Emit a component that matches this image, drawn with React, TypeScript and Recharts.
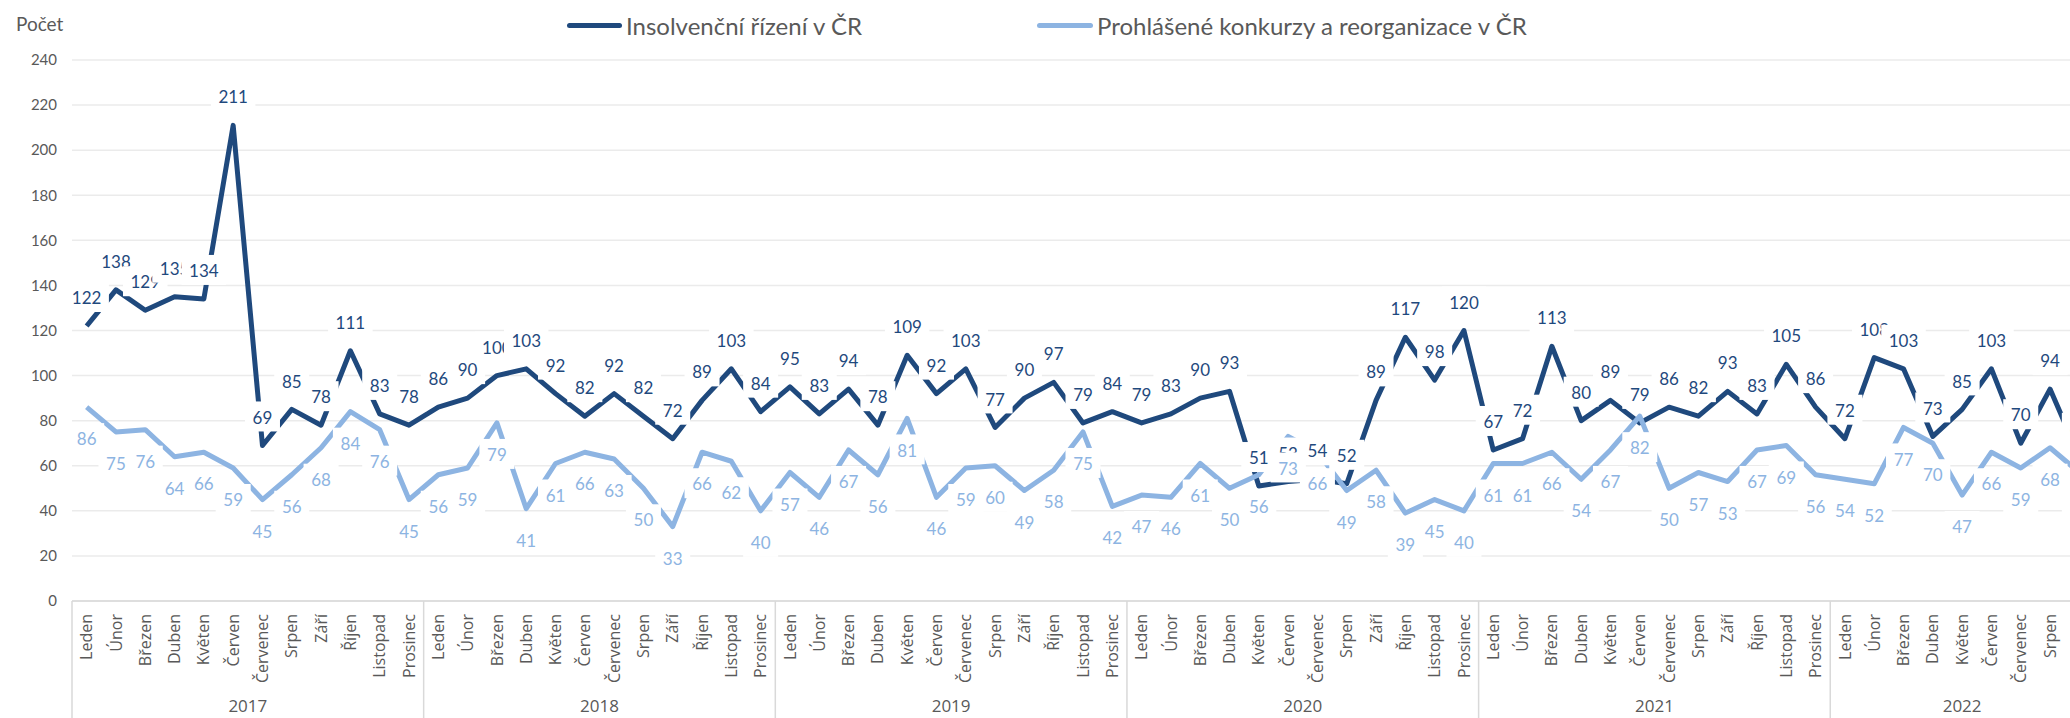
import React from "react";
import {
  LineChart,
  Line,
  XAxis,
  YAxis,
  CartesianGrid,
  LabelList,
} from "recharts";

const months = [
  "Leden", "Únor", "Březen", "Duben", "Květen", "Červen",
  "Červenec", "Srpen", "Září", "Říjen", "Listopad", "Prosinec",
];
const years = [2017, 2018, 2019, 2020, 2021, 2022];

// Insolvenční řízení v ČR
const insolvence = [
  122, 138, 129, 135, 134, 211, 69, 85, 78, 111, 83, 78,
  86, 90, 100, 103, 92, 82, 92, 82, 72, 89, 103, 84,
  95, 83, 94, 78, 109, 92, 103, 77, 90, 97, 79, 84,
  79, 83, 90, 93, 51, 53, 54, 52, 89, 117, 98, 120,
  67, 72, 113, 80, 89, 79, 86, 82, 93, 83, 105, 86,
  72, 108, 103, 73, 85, 103, 70, 94, 64,
];

// Prohlášené konkurzy a reorganizace v ČR
const konkurzy = [
  86, 75, 76, 64, 66, 59, 45, 56, 68, 84, 76, 45,
  56, 59, 79, 41, 61, 66, 63, 50, 33, 66, 62, 40,
  57, 46, 67, 56, 81, 46, 59, 60, 49, 58, 75, 42,
  47, 46, 61, 50, 56, 73, 66, 49, 58, 39, 45, 40,
  61, 61, 66, 54, 67, 82, 50, 57, 53, 67, 69, 56,
  54, 52, 77, 70, 47, 66, 59, 68, 57,
];

const yTicks = [0, 20, 40, 60, 80, 100, 120, 140, 160, 180, 200, 220, 240];

const DARK = "#1f497d";
const LIGHT = "#8db4e2";
const GREY = "#595959";

const rows = insolvence.map((v, i) => ({
  key: `${years[Math.floor(i / 12)]}-${i % 12}`,
  m: i % 12,
  month: months[i % 12],
  year: years[Math.floor(i / 12)],
  ins: v,
  kon: konkurzy[i],
}));

const CHART_W = 2104;
const CHART_H = 718;
const LEFT = 72;
const RIGHT = 10;
const TOP = 60;
const XAXIS_H = 117;
const STEP = (CHART_W - LEFT - RIGHT) / rows.length;

const countInYear = (y: number) => rows.filter((r) => r.year === y).length;

const MonthTick = (props: any) => {
  const { x, y, payload } = props;
  const row = rows[payload.index];
  if (!row) return null;
  const n = countInYear(row.year);
  return (
    <g>
      <text
        transform={`translate(${x},${y + 13}) rotate(-90)`}
        textAnchor="end"
        dy="0.35em"
        fill={GREY}
        fontSize={16}
        fontFamily="Open Sans"
      >
        {row.month}
      </text>
      {row.m === 0 && (
        <>
          <line
            x1={x - STEP / 2}
            x2={x - STEP / 2}
            y1={y}
            y2={CHART_H}
            stroke="#d9d9d9"
            strokeWidth={1.5}
          />
          <text
            x={x + ((n - 1) / 2) * STEP}
            y={712}
            textAnchor="middle"
            fill={GREY}
            fontSize={17}
            fontFamily="Open Sans"
          >
            {row.year}
          </text>
        </>
      )}
    </g>
  );
};

const makeLabel = (color: string, offset: number) => (props: any) => {
  const x = props.x ?? props.viewBox?.x;
  const y = props.y ?? props.viewBox?.y;
  if (x == null || y == null) return null;
  const txt = String(props.value);
  const w = txt.length * 9.5 + 16;
  const cy = y + offset;
  return (
    <g>
      <rect x={x - w / 2} y={cy - 16} width={w} height={30} fill="#ffffff" />
      <text
        x={x}
        y={cy}
        dy="0.36em"
        textAnchor="middle"
        fill={color}
        fontSize={17}
        fontFamily="Lato"
      >
        {txt}
      </text>
    </g>
  );
};

const DarkLabel = makeLabel(DARK, -28);
const LightLabel = makeLabel(LIGHT, 32);

const legendStyle: React.CSSProperties = {
  position: "absolute",
  top: 8,
  height: 34,
  display: "flex",
  alignItems: "center",
  fontFamily: "Lato",
  fontSize: 24,
  color: GREY,
  whiteSpace: "nowrap",
};

const App = () => {
  return (
    <div
      style={{
        position: "absolute",
        left: 0,
        top: 0,
        width: 2070,
        height: 718,
        overflow: "hidden",
        background: "#fff",
      }}
    >
      <div
        style={{
          position: "absolute",
          left: 16,
          top: 12,
          fontFamily: "Lato",
          fontSize: 19,
          color: GREY,
        }}
      >
        Počet
      </div>
      <div style={{ ...legendStyle, left: 567 }}>
        <span
          style={{
            display: "inline-block",
            width: 55,
            height: 5,
            borderRadius: 3,
            background: DARK,
            marginRight: 4,
          }}
        />
        Insolvenční řízení v ČR
      </div>
      <div style={{ ...legendStyle, left: 1037 }}>
        <span
          style={{
            display: "inline-block",
            width: 56,
            height: 5,
            borderRadius: 3,
            background: LIGHT,
            marginRight: 4,
          }}
        />
        Prohlášené konkurzy a reorganizace v ČR
      </div>
      <LineChart
        width={CHART_W}
        height={CHART_H}
        data={rows}
        margin={{ top: TOP, right: RIGHT, left: 0, bottom: 0 }}
        style={{ position: "absolute", left: 0, top: 0 }}
      >
        <CartesianGrid vertical={false} stroke="#ebebeb" strokeWidth={1.5} />
        <XAxis
          dataKey="key"
          interval={0}
          height={XAXIS_H}
          padding={{ left: STEP / 2, right: STEP / 2 }}
          tickLine={false}
          tickSize={0}
          tickMargin={0}
          axisLine={{ stroke: "#d9d9d9", strokeWidth: 1.5 }}
          tick={<MonthTick />}
        />
        <YAxis
          width={LEFT}
          domain={[0, 240]}
          ticks={yTicks}
          axisLine={false}
          tickLine={false}
          tickSize={0}
          tickMargin={15}
          tick={{ fill: GREY, fontSize: 15, fontFamily: "Lato" }}
        />
        <Line
          dataKey="ins"
          stroke={DARK}
          strokeWidth={5}
          strokeLinejoin="round"
          dot={false}
          activeDot={false}
          isAnimationActive={false}
        />
        <Line
          dataKey="kon"
          stroke={LIGHT}
          strokeWidth={5}
          strokeLinejoin="round"
          dot={false}
          activeDot={false}
          isAnimationActive={false}
        />
        <Line
          dataKey="ins"
          stroke="none"
          dot={false}
          activeDot={false}
          isAnimationActive={false}
        >
          <LabelList dataKey="ins" content={DarkLabel} />
        </Line>
        <Line
          dataKey="kon"
          stroke="none"
          dot={false}
          activeDot={false}
          isAnimationActive={false}
        >
          <LabelList dataKey="kon" content={LightLabel} />
        </Line>
      </LineChart>
    </div>
  );
};

export default App;
